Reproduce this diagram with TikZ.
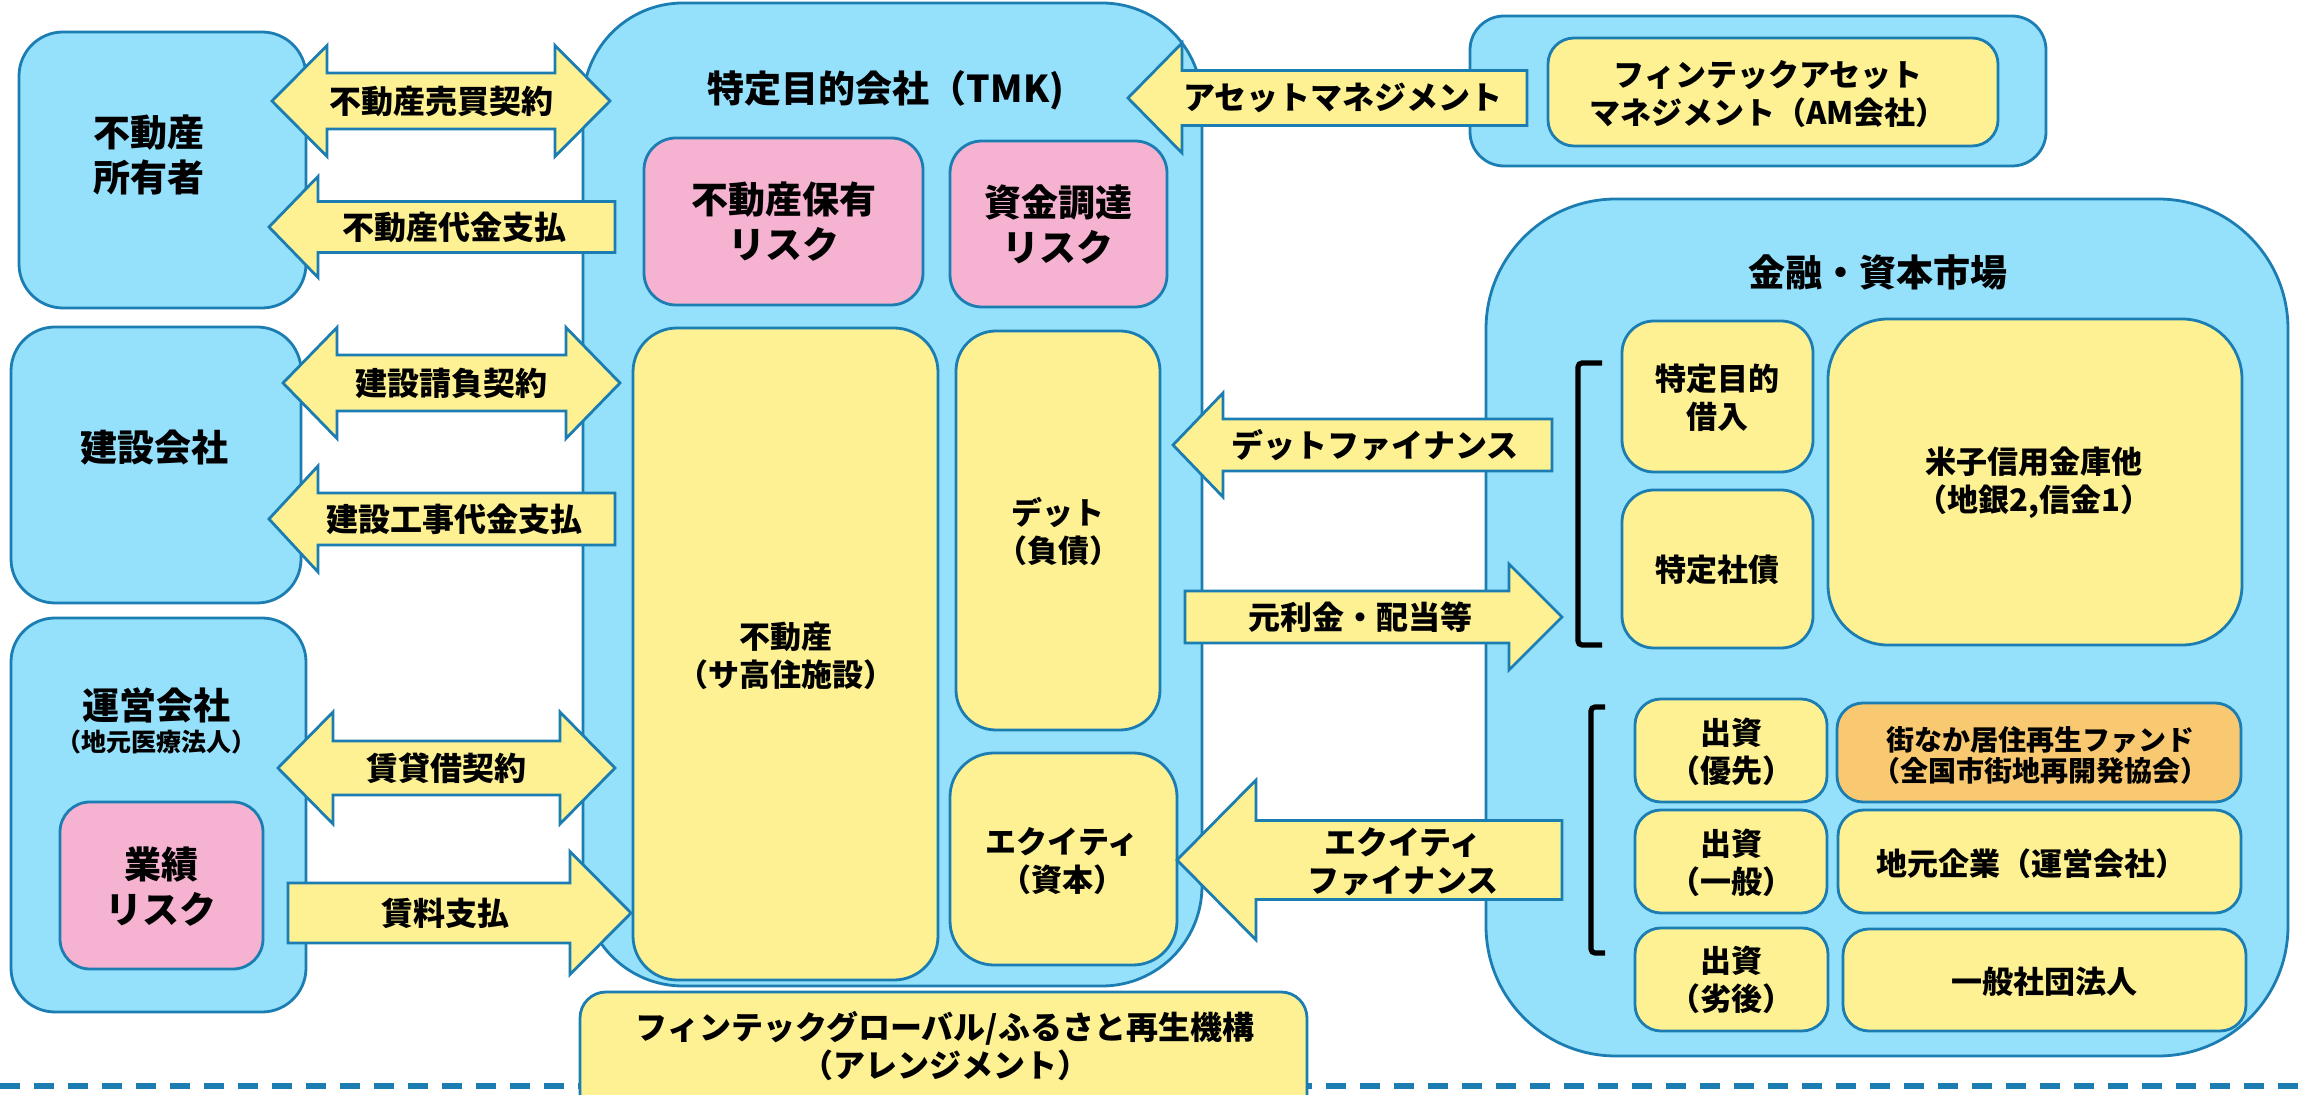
\documentclass[tikz,border=0pt]{standalone}
\usepackage{fontspec}
\setmainfont{Noto Sans CJK JP}[BoldFont={Noto Sans CJK JP Black}]
\definecolor{lblue}{HTML}{95E1FC}
\definecolor{bord}{HTML}{1B7DB1}
\definecolor{yel}{HTML}{FDF193}
\definecolor{pnk}{HTML}{F5B3D1}
\definecolor{org}{HTML}{F8C970}
\newcommand\fBig{\fontsize{18.5pt}{22.5pt}\selectfont\bfseries}
\newcommand\fMid{\fontsize{15.5pt}{19pt}\selectfont\bfseries}
\newcommand\fArr{\fontsize{16pt}{19pt}\selectfont\bfseries}
\newcommand\fSm{\fontsize{14pt}{15.5pt}\selectfont\bfseries}
\newcommand\fXs{\fontsize{12.5pt}{14pt}\selectfont\bfseries}
% box: style, name, x1, y1, x2, y2, radius
\newcommand\RBox[7]{\node[#1, rounded corners=#7, minimum width={(#5-#3)*0.5pt}, minimum height={(#6-#4)*0.5pt}] (#2) at ({(#3+#5)/2},{(#4+#6)/2}) {};}
% right arrow: xtail, xtip, yc, bodyhalf, headhalf, headlen
\newcommand\ArrowR[6]{\path[arrowshape] (#1,{#3-#4}) -- ({#2-#6},{#3-#4}) -- ({#2-#6},{#3-#5}) -- (#2,#3) -- ({#2-#6},{#3+#5}) -- ({#2-#6},{#3+#4}) -- (#1,{#3+#4}) -- cycle;}
% left arrow: xtip, xtail, yc, bodyhalf, headhalf, headlen
\newcommand\ArrowL[6]{\path[arrowshape] (#2,{#3-#4}) -- ({#1+#6},{#3-#4}) -- ({#1+#6},{#3-#5}) -- (#1,#3) -- ({#1+#6},{#3+#5}) -- ({#1+#6},{#3+#4}) -- (#2,{#3+#4}) -- cycle;}
% double arrow: xleft, xright, yc, bodyhalf, headhalf, headlen
\newcommand\ArrowD[6]{\path[arrowshape] (#1,#3) -- ({#1+#6},{#3-#5}) -- ({#1+#6},{#3-#4}) -- ({#2-#6},{#3-#4}) -- ({#2-#6},{#3-#5}) -- (#2,#3) -- ({#2-#6},{#3+#5}) -- ({#2-#6},{#3+#4}) -- ({#1+#6},{#3+#4}) -- ({#1+#6},{#3+#5}) -- cycle;}
\begin{document}
\begin{tikzpicture}[x=0.5pt,y=-0.5pt,
  bluebox/.style={draw=bord, fill=lblue, line width=1.4pt, inner sep=0pt, outer sep=0pt},
  yelbox/.style={draw=bord, fill=yel, line width=1.4pt, inner sep=0pt, outer sep=0pt},
  pinkbox/.style={draw=bord, fill=pnk, line width=1.4pt, inner sep=0pt, outer sep=0pt},
  orgbox/.style={draw=bord, fill=org, line width=1.4pt, inner sep=0pt, outer sep=0pt},
  arrowshape/.style={draw=bord, fill=yel, line width=1.4pt, line join=miter},
  txt/.style={inner sep=0pt, align=center, text=black},
  bracket/.style={draw=black, line width=2.6pt, rounded corners=2pt},
  dashline/.style={draw=bord, line width=2.6pt, dash pattern=on 10pt off 7pt}]
\useasboundingbox (0,0) rectangle (2298,1095);
\clip (0,0) rectangle (2298,1095);
\fill[white] (0,0) rectangle (2298,1095);
% dashed line
\coordinate (dashL) at (0,1086);
\coordinate (dashR) at (2298,1086);
\draw[dashline] (dashL) -- (dashR);
% left column
\RBox{bluebox}{owner}{19}{32}{306}{308}{22pt}
\RBox{bluebox}{builder}{11}{327}{301}{603}{22pt}
\RBox{bluebox}{operator}{11}{618}{306}{1012}{22pt}
\RBox{pinkbox}{oprisk}{60}{802}{263}{969}{15pt}
% TMK
\RBox{bluebox}{tmk}{583}{3}{1202}{986}{50pt}
\RBox{pinkbox}{rerisk}{644}{138}{923}{305}{16pt}
\RBox{pinkbox}{fundrisk}{950}{141}{1167}{307}{16pt}
\RBox{yelbox}{realestate}{633}{328}{938}{980}{22pt}
\RBox{yelbox}{debt}{956}{331}{1160}{730}{20pt}
\RBox{yelbox}{equity}{950}{753}{1177}{965}{22pt}
% AM
\RBox{bluebox}{amouter}{1470}{16}{2046}{166}{17pt}
\RBox{yelbox}{am}{1548}{38}{1998}{146}{13pt}
% market
\RBox{bluebox}{market}{1486}{199}{2288}{1056}{65pt}
\RBox{yelbox}{tmkloan}{1622}{321}{1813}{472}{16pt}
\RBox{yelbox}{tmkbond}{1622}{490}{1813}{648}{16pt}
\RBox{yelbox}{banks}{1828}{319}{2242}{645}{30pt}
\RBox{yelbox}{inv1}{1635}{699}{1827}{802}{13pt}
\RBox{orgbox}{fund}{1837}{703}{2241}{802}{13pt}
\RBox{yelbox}{inv2}{1635}{810}{1827}{913}{13pt}
\RBox{yelbox}{local}{1838}{810}{2241}{913}{13pt}
\RBox{yelbox}{inv3}{1635}{928}{1828}{1031}{13pt}
\RBox{yelbox}{assoc}{1843}{929}{2246}{1031}{13pt}
% brackets
\coordinate (brA1) at (1602,363); \coordinate (brA2) at (1578,363);
\coordinate (brA3) at (1578,645); \coordinate (brA4) at (1602,645);
\draw[bracket] (brA1) -- (brA2) -- (brA3) -- (brA4);
\coordinate (brB1) at (1605,707); \coordinate (brB2) at (1591,707);
\coordinate (brB3) at (1591,953); \coordinate (brB4) at (1605,953);
\draw[bracket] (brB1) -- (brB2) -- (brB3) -- (brB4);
% arranger
\RBox{yelbox}{arranger}{580}{992}{1307}{1140}{13pt}
% arrows
\ArrowD{272}{610}{101}{28}{55.5}{55}
\ArrowL{269}{615}{227}{25.5}{50.5}{49}
\ArrowD{283}{620}{383}{28}{55.5}{54}
\ArrowL{269}{615}{519}{26}{53}{49}
\ArrowD{278}{615}{768}{27}{56}{55}
\ArrowR{288}{631}{913}{30}{61.5}{61}
\ArrowL{1128}{1527}{98}{27.5}{55}{54}
\ArrowL{1173}{1552}{445}{26}{52}{50}
\ArrowR{1185}{1562}{617}{26}{53}{53}
\ArrowL{1177}{1562}{860}{39.5}{80}{79}
% texts
\node[txt,font=\fBig] (tOwner) at (149,155) {不動産\\所有者};
\node[txt,font=\fBig] (tBuilder) at (154,448) {建設会社};
\node[txt,font=\fBig] (tOper) at (156,705) {運営会社};
\node[txt,font=\fXs] (tOperSub) at (156,742) {（地元医療法人）};
\node[txt,font=\fBig] (tOpRisk) at (161,887) {業績\\リスク};
\node[txt,font=\fBig] (tTmk) at (886,90) {特定目的会社（TMK)};
\node[txt,font=\fBig] (tReRisk) at (784,222) {不動産保有\\リスク};
\node[txt,font=\fBig] (tFundRisk) at (1058,225) {資金調達\\リスク};
\node[txt,font=\fMid] (tRe) at (786,656) {不動産\\（サ高住施設）};
\node[txt,font=\fMid] (tDebt) at (1058,532) {デット\\（負債）};
\node[txt,font=\fMid] (tEq) at (1062,861) {エクイティ\\（資本）};
\node[txt,font=\fMid] (tAm) at (1768,94) {フィンテックアセット\\マネジメント（AM会社）};
\node[txt,font=\fBig] (tMarket) at (1878,272) {金融・資本市場};
\node[txt,font=\fMid] (tLoan) at (1717,398) {特定目的\\借入};
\node[txt,font=\fMid] (tBond) at (1717,570) {特定社債};
\node[txt,font=\fMid] (tBanks) at (2034,483) {米子信用金庫他\\（地銀2,信金1）};
\node[txt,font=\fMid] (tInv1) at (1731,752) {出資\\（優先）};
\node[txt,font=\fSm] (tFund) at (2040,755) {街なか居住再生ファンド\\（全国市街地再開発協会）};
\node[txt,font=\fMid] (tInv2) at (1731,863) {出資\\（一般）};
\node[txt,font=\fMid] (tLocal) at (2031,864) {地元企業（運営会社）};
\node[txt,font=\fMid] (tInv3) at (1731,980) {出資\\（劣後）};
\node[txt,font=\fMid] (tAssoc) at (2044,982) {一般社団法人};
\node[txt,font=\fArr] (tArranger) at (945,1046) {フィンテックグローバル/ふるさと再生機構\\（アレンジメント）};
% arrow labels
\node[txt,font=\fArr] (lSale) at (441,101) {不動産売買契約};
\node[txt,font=\fArr] (lPay) at (454,227) {不動産代金支払};
\node[txt,font=\fArr] (lBuild) at (451,383) {建設請負契約};
\node[txt,font=\fArr] (lBuildPay) at (454,519) {建設工事代金支払};
\node[txt,font=\fArr] (lLease) at (446,768) {賃貸借契約};
\node[txt,font=\fArr] (lRent) at (445,913) {賃料支払};
\node[txt,font=\fArr] (lAm) at (1343,98) {アセットマネジメント};
\node[txt,font=\fArr] (lDebtFin) at (1375,445) {デットファイナンス};
\node[txt,font=\fArr] (lRepay) at (1360,617) {元利金・配当等};
\node[txt,font=\fArr] (lEqFin) at (1403,862) {エクイティ\\ファイナンス};
\end{tikzpicture}
\end{document}
